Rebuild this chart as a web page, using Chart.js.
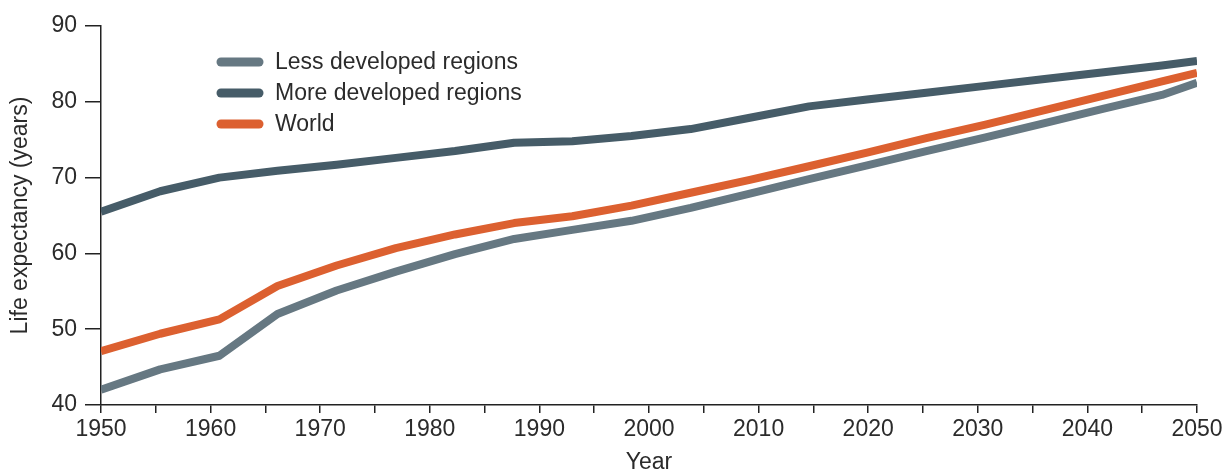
<!DOCTYPE html>
<html>
<head>
<meta charset="utf-8">
<script src="https://cdn.jsdelivr.net/npm/chart.js@4.4.0/dist/chart.umd.min.js"></script>
<style>
  body { margin: 0; background: #fff; }
  #chart { display: block; }
</style>
</head>
<body>
<canvas id="chart" width="1230" height="472"></canvas>
<script>
// x position of each data point, in years (as placed on the drawing)
var periodYears = [1950, 1955.4, 1960.8, 1966.1, 1971.5, 1976.9, 1982.3, 1987.7, 1993.0, 1998.4,
                   2003.8, 2009.2, 2014.6, 2019.9, 2025.3, 2030.7, 2036.1, 2041.5, 2046.8, 2050];

var lessDeveloped = [42.0, 44.7, 46.5, 52.0, 55.1, 57.6, 59.9, 61.9, 63.1, 64.3,
                     66.0, 67.9, 69.8, 71.6, 73.5, 75.3, 77.2, 79.1, 80.9, 82.5];
var moreDeveloped = [65.5, 68.2, 70.0, 70.9, 71.7, 72.6, 73.5, 74.6, 74.8, 75.5,
                     76.4, 77.9, 79.4, 80.3, 81.2, 82.1, 83.0, 83.9, 84.8, 85.4];
var world = [47.1, 49.4, 51.3, 55.7, 58.4, 60.7, 62.5, 64.0, 64.9, 66.3,
             68.0, 69.7, 71.5, 73.3, 75.2, 77.0, 78.9, 80.8, 82.7, 83.8];

var seriesNames = ["Less developed regions", "More developed regions", "World"];
var seriesColors = ["#667882", "#465c68", "#dc6030"];

var fontFamily = '"Liberation Sans", Arial, sans-serif';
var textColor = "#2b2b2b";

function toPoints(values) {
  return periodYears.map(function (yr, i) { return { x: yr, y: values[i] }; });
}

// legend drawn inside the plot, top left
const insetLegend = {
  id: "insetLegend",
  afterDraw(chart) {
    const ctx = chart.ctx;
    const area = chart.chartArea;
    const x0 = area.left + 120;
    const y0 = area.top + 36;
    chart.data.datasets.forEach(function (ds, i) {
      const y = y0 + i * 31;
      ctx.save();
      ctx.strokeStyle = ds.borderColor;
      ctx.lineWidth = 9;
      ctx.lineCap = "round";
      ctx.beginPath();
      ctx.moveTo(x0, y);
      ctx.lineTo(x0 + 38, y);
      ctx.stroke();
      ctx.fillStyle = textColor;
      ctx.font = "23px " + fontFamily;
      ctx.textBaseline = "middle";
      ctx.fillText(ds.label, x0 + 54, y + 1);
      ctx.restore();
    });
  }
};

const chartData = {
  datasets: [
    {
      label: seriesNames[0],
      data: toPoints(lessDeveloped),
      borderColor: seriesColors[0],
      backgroundColor: seriesColors[0],
    },
    {
      label: seriesNames[1],
      data: toPoints(moreDeveloped),
      borderColor: seriesColors[1],
      backgroundColor: seriesColors[1],
    },
    {
      label: seriesNames[2],
      data: toPoints(world),
      borderColor: seriesColors[2],
      backgroundColor: seriesColors[2],
    }
  ]
};

const config = {
  type: "line",
  data: chartData,
  options: {
    responsive: false,
    animation: false,
    layout: { padding: { left: 1, right: 33, top: 26, bottom: 0 } },
    elements: {
      line: { borderWidth: 8, tension: 0, borderCapStyle: "butt", borderJoinStyle: "round" },
      point: { radius: 0 }
    },
    plugins: {
      legend: { display: false },
      tooltip: { enabled: false }
    },
    scales: {
      x: {
        type: "linear",
        min: 1950,
        max: 2050,
        afterFit: function (s) { s.height = 67; },
        ticks: {
          stepSize: 5,
          autoSkip: false,
          maxRotation: 0,
          padding: 3,
          color: textColor,
          font: { family: fontFamily, size: 23 },
          callback: function (v) { return v % 10 === 0 ? String(v) : ""; }
        },
        grid: { drawOnChartArea: false, drawTicks: true, tickLength: 8, color: "#222", lineWidth: 1.5 },
        border: { display: true, color: "#222", width: 1.5 },
        title: {
          display: true,
          text: "Year",
          color: textColor,
          font: { family: fontFamily, size: 23 },
          padding: { top: 0, bottom: -4 }
        }
      },
      y: {
        min: 40,
        max: 90,
        afterFit: function (s) { s.width = 100; },
        ticks: {
          stepSize: 10,
          padding: 8,
          color: textColor,
          font: { family: fontFamily, size: 23 }
        },
        grid: { drawOnChartArea: false, drawTicks: true, tickLength: 16, color: "#222", lineWidth: 1.5 },
        border: { display: true, color: "#222", width: 1.5 },
        title: {
          display: true,
          text: "Life expectancy (years)",
          color: textColor,
          font: { family: fontFamily, size: 23 },
          padding: { top: 6, bottom: 0 }
        }
      }
    }
  },
  plugins: [insetLegend]
};

new Chart(document.getElementById("chart"), config);
</script>
</body>
</html>
